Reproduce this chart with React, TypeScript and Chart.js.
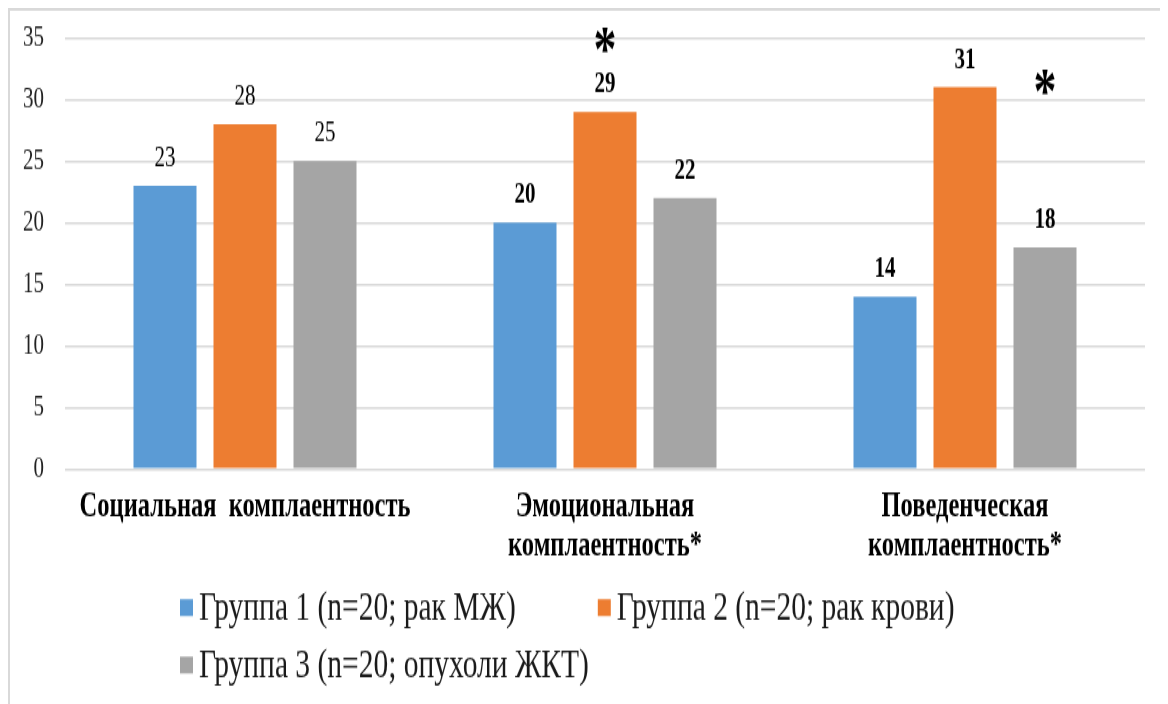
import React, { useEffect, useRef } from 'react';
import { Chart, registerables } from 'chart.js';

Chart.register(...registerables);

// Categories (multi-line labels), series and tick values
const categories: string[][] = [
  ['Социальная  комплаентность'],
  ['Эмоциональная', 'комплаентность*'],
  ['Поведенческая', 'комплаентность*'],
];
const seriesNames = [
  'Группа 1 (n=20; рак МЖ)',
  'Группа 2 (n=20; рак крови)',
  'Группа 3 (n=20; опухоли ЖКТ)',
];
const group1 = [23, 20, 14];
const group2 = [28, 29, 31];
const group3 = [25, 22, 18];
const seriesColors = ['#5B9BD5', '#ED7D31', '#A5A5A5'];
const yTickValues = [0, 5, 10, 15, 20, 25, 30, 35];
// value labels are bold in the categories with a significant difference
const boldValueLabels = [false, true, true];
// significance marks: category index, series index, height on the value axis
const asteriskMarks = [
  { category: 1, series: 1, value: 34.8 },
  { category: 2, series: 2, value: 31.4 },
];
const legendRows = [[0, 1], [2]];

const SERIF = "'Liberation Serif', 'Times New Roman', serif";
const W = 1160;
const H = 500;
const STRETCH = 1.4; // the drawing is stretched vertically by CSS

const framePlugin = {
  id: 'frame',
  beforeDraw(chart: any) {
    const { ctx, width, height } = chart;
    ctx.save();
    ctx.fillStyle = '#ffffff';
    ctx.fillRect(0, 0, width, height);
    ctx.strokeStyle = '#d9d9d9';
    ctx.lineWidth = 2;
    ctx.strokeRect(1, 1, width - 2, height - 2 + 40);
    ctx.restore();
  },
};

const valueLabelPlugin = {
  id: 'valueLabels',
  afterDatasetsDraw(chart: any) {
    const { ctx } = chart;
    ctx.save();
    ctx.fillStyle = '#000000';
    ctx.textAlign = 'center';
    ctx.textBaseline = 'middle';
    chart.data.datasets.forEach((ds: any, di: number) => {
      const meta = chart.getDatasetMeta(di);
      meta.data.forEach((el: any, i: number) => {
        ctx.font = `${boldValueLabels[i] ? 'bold ' : ''}21px ${SERIF}`;
        ctx.fillText(String(ds.data[i]), el.x, el.y - 19.5);
      });
    });
    ctx.restore();
  },
};

const asteriskPlugin = {
  id: 'asterisks',
  afterDatasetsDraw(chart: any) {
    const { ctx } = chart;
    const yScale = chart.scales.y;
    ctx.save();
    ctx.fillStyle = '#000000';
    ctx.textAlign = 'center';
    ctx.textBaseline = 'alphabetic';
    ctx.font = `bold 46px ${SERIF}`;
    const m = ctx.measureText('*');
    const mid = (m.actualBoundingBoxAscent - m.actualBoundingBoxDescent) / 2;
    asteriskMarks.forEach((a) => {
      const el = chart.getDatasetMeta(a.series).data[a.category];
      const y = yScale.getPixelForValue(a.value);
      ctx.fillText('*', el.x, y + mid);
    });
    ctx.restore();
  },
};

const legendPlugin = {
  id: 'rowLegend',
  afterDraw(chart: any) {
    const { ctx, chartArea } = chart;
    const startX = 172;
    const boxW = 13;
    const boxH = 12;
    const textGap = 19;
    const itemGap = 82;
    const rowOffsets = [99, 140];
    ctx.save();
    ctx.font = `29.5px ${SERIF}`;
    ctx.textAlign = 'left';
    ctx.textBaseline = 'middle';
    legendRows.forEach((row, r) => {
      let x = startX;
      const y = chartArea.bottom + rowOffsets[r];
      row.forEach((si) => {
        ctx.fillStyle = seriesColors[si];
        ctx.fillRect(x, y - boxH / 2, boxW, boxH);
        ctx.fillStyle = '#1a1a1a';
        ctx.fillText(seriesNames[si], x + textGap, y + 1);
        x += textGap + ctx.measureText(seriesNames[si]).width + itemGap;
      });
    });
    ctx.restore();
  },
};

export default function App() {
  const canvasRef = useRef<HTMLCanvasElement | null>(null);

  useEffect(() => {
    const canvas = canvasRef.current;
    if (!canvas) return;
    const data = {
      labels: categories,
      datasets: [group1, group2, group3].map((values, i) => ({
        label: seriesNames[i],
        data: values,
        backgroundColor: seriesColors[i],
        borderWidth: 0,
        categoryPercentage: 0.6667,
        barPercentage: 0.7875,
      })),
    };
    const chart = new Chart(canvas, {
      type: 'bar',
      data,
      options: {
        responsive: false,
        animation: false,
        devicePixelRatio: 1,
        layout: { padding: { left: 14, right: 23, top: 21.4, bottom: 90.7 } },
        plugins: {
          legend: { display: false },
          tooltip: { enabled: false },
        },
        scales: {
          x: {
            grid: { display: false, drawTicks: false },
            border: { display: false },
            ticks: {
              padding: 13,
              color: '#000000',
              maxRotation: 0,
              autoSkip: false,
              font: { family: SERIF, size: 24.5, weight: 'bold', lineHeight: 1.16 },
            },
            afterFit(scale: any) {
              scale.height = 80;
              scale.paddingTop = 0;
              scale.paddingBottom = 0;
            },
          },
          y: {
            min: 0,
            max: 35,
            afterBuildTicks(scale: any) {
              scale.ticks = yTickValues.map((v) => ({ value: v }));
            },
            grid: { color: '#d9d9d9', lineWidth: 1.4, drawTicks: false },
            border: { display: false },
            ticks: {
              padding: 21,
              color: '#222222',
              font: { family: SERIF, size: 21 },
            },
            afterFit(scale: any) {
              scale.width = 43;
              scale.paddingTop = 0;
              scale.paddingBottom = 0;
            },
          },
        },
      } as any,
      plugins: [framePlugin, valueLabelPlugin, asteriskPlugin, legendPlugin],
    });
    return () => chart.destroy();
  }, []);

  return (
    <canvas
      ref={canvasRef}
      width={W}
      height={H}
      style={{ width: `${W}px`, height: `${H * STRETCH}px`, display: 'block' }}
    />
  );
}
